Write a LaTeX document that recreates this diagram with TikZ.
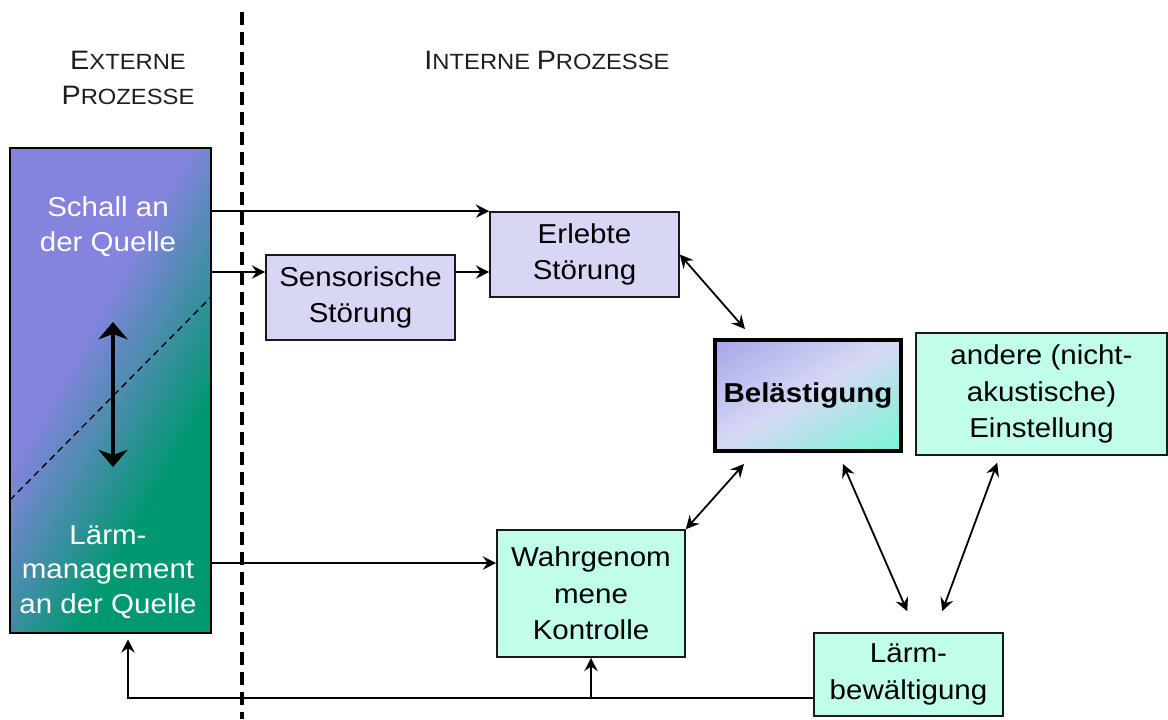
\documentclass[tikz,border=0pt]{standalone}
\usepackage{fontspec}
\setmainfont{Liberation Sans}[FakeStretch=1.08]
\usetikzlibrary{arrows.meta,calc}

\definecolor{extpurple}{RGB}{132,132,222}
\definecolor{extgreen}{RGB}{0,152,112}
\definecolor{lav}{RGB}{215,215,245}
\definecolor{aqua}{RGB}{193,253,235}
\definecolor{belA}{RGB}{164,164,234}
\definecolor{belB}{RGB}{214,216,244}
\definecolor{belC}{RGB}{122,246,214}
\definecolor{linec}{RGB}{25,25,25}
\definecolor{headc}{RGB}{30,30,30}

% fake small caps: large initial, smaller capitals
\newcommand{\capword}[2]{{\fontsize{20}{26}\selectfont #1}{\fontsize{16.5}{26}\selectfont #2}}

\begin{document}
\begin{tikzpicture}[x=0.75pt,y=-0.75pt,
  boxtext/.style={font=\fontsize{20.5}{27.5}\selectfont, align=center, text=black},
  box/.style={boxtext, draw=linec, line width=1.2pt, inner sep=0pt, rectangle},
  lavbox/.style={box, fill=lav},
  aquabox/.style={box, fill=aqua},
  conn/.style={draw=black, line width=1.35pt},
  tip/.style={-{Stealth[length=10pt,width=10pt,inset=3.5pt]}},
  tips/.style={{Stealth[length=10pt,width=10pt,inset=3.5pt]}-{Stealth[length=10pt,width=10pt,inset=3.5pt]}},
  whitetext/.style={font=\fontsize{20.5}{26}\selectfont, align=center, text=white},
  header/.style={align=center, text=headc, inner sep=0pt, font=\fontsize{16.5}{26.5}\selectfont}
]
\useasboundingbox (0,0) rectangle (1168,719);

% ---- external processes: gradient column ----
\node[minimum width=150.75pt, minimum height=363.75pt, inner sep=0pt] (ext) at (110.5,390.5) {};
\begin{scope}
  \clip (ext.north west) rectangle (ext.south east);
  \fill[extgreen] (ext.north west) rectangle (ext.south east);
  \begin{scope}[shift={(110,440)}, rotate=-29.2]
    \foreach \i in {0,...,28} {
      \pgfmathsetmacro{\sval}{70-5*\i}
      \pgfmathtruncatemacro{\gfrac}{100*(70-5*\i+70)/140}
      \fill[extgreen!\gfrac!extpurple] (-700,-700) rectangle (\sval,700);
    }
  \end{scope}
\end{scope}

\coordinate (dl1) at (10,500);
\coordinate (dl2) at (211,297);
\draw[black, line width=1pt, dash pattern=on 5pt off 3.5pt] (dl1) -- (dl2);

\coordinate (da) at (113,322);
\coordinate (db) at (113,467);
\draw[black, line width=3.6pt, {Stealth[length=13pt,width=22pt,inset=4pt]}-{Stealth[length=13pt,width=22pt,inset=4pt]}] (da) -- (db);

\node[whitetext] (schall) at (108,227) {Schall an\\der Quelle};
\node[whitetext] (laerm) at (108,572) {Lärm-\\management\\an der Quelle};

% frame of the column, drawn over the gradient
\draw[black, line width=1.3pt] (ext.north west) rectangle (ext.south east);

% ---- divider ----
\coordinate (v1) at (242,12);
\coordinate (v2) at (242,719);
\draw[black, line width=3pt, dash pattern=on 10pt off 5pt] (v1) -- (v2);

% ---- headers ----
\node[header] (exth) at (128,78) {\capword{E}{XTERNE}\\\capword{P}{ROZESSE}};
\node[header] (inth) at (547,60) {\capword{I}{NTERNE} \capword{P}{ROZESSE}};

% ---- internal process boxes ----
\node[lavbox, minimum width=141.75pt, minimum height=63.75pt] (sen) at (360.5,297.5) {Sensorische\\Störung};
\node[lavbox, minimum width=141.75pt, minimum height=63.75pt] (erl) at (584.5,254.5) {Erlebte\\Störung};

% annoyance box with diagonal gradient
\begin{scope}
  \clip (715,340) rectangle (901,451);
  \begin{scope}[shift={(808,395.5)}, rotate=-59.2]
    \fill[belC] (-300,-300) rectangle (300,300);
    \foreach \i in {0,...,38} {
      \pgfmathsetmacro{\sval}{95-5*\i}
      \pgfmathtruncatemacro{\gfrac}{100*(95-5*\i)/95}
      \ifnum\gfrac>0
        \fill[belC!\gfrac!belB] (-300,-300) rectangle (\sval,300);
      \else
        \pgfmathtruncatemacro{\hfrac}{-\gfrac}
        \fill[belA!\hfrac!belB] (-300,-300) rectangle (\sval,300);
      \fi
    }
  \end{scope}
\end{scope}
\node[draw=black, line width=3pt, minimum width=139.5pt, minimum height=83.25pt, inner sep=0pt, font=\fontsize{20.5}{27}\selectfont\bfseries] (bel) at (808,395.5) {Belästigung};

\node[aquabox, minimum width=188.25pt, minimum height=91.5pt] (and) at (1041.5,394) {andere (nicht-\\akustische)\\Einstellung};
\node[aquabox, minimum width=141pt, minimum height=95.25pt] (wk) at (591,593.5) {Wahrgenom\\mene\\Kontrolle};
\node[aquabox, minimum width=141.75pt, minimum height=62.25pt] (lb) at (908.5,674.5) {Lärm-\\bewältigung};

% ---- connectors ----
\coordinate (yB) at (0,272);
\coordinate (yC) at (0,563);
\coordinate (yD) at (0,698);
\coordinate (xE) at (128,0);

\draw[conn,tip] (ext.east |- erl.north) -- (erl.north west);
\draw[conn,tip] (ext.east |- yB) -- (sen.west |- yB);
\draw[conn,tip] (sen.east |- yB) -- (erl.west |- yB);
\draw[conn,tips] (erl.east) -- ($(bel.north west)+(32,-9)$);
\draw[conn,tips] ($(bel.south west)+(31,11)$) -- (wk.north east);
\draw[conn,tips] ($(bel.south west)+(130,11)$) -- ($(lb.north west)+(94,-21)$);
\draw[conn,tips] ($(and.south west)+(82,7)$) -- ($(lb.north west)+(129,-21)$);
\draw[conn,tip] (ext.east |- yC) -- (wk.west |- yC);
\draw[conn,tip] (lb.west |- yD) -- (xE |- yD) -- ($(xE |- ext.south)+(0,6)$);
\draw[conn,tip] (wk.south |- yD) -- (wk.south);

\end{tikzpicture}
\end{document}
